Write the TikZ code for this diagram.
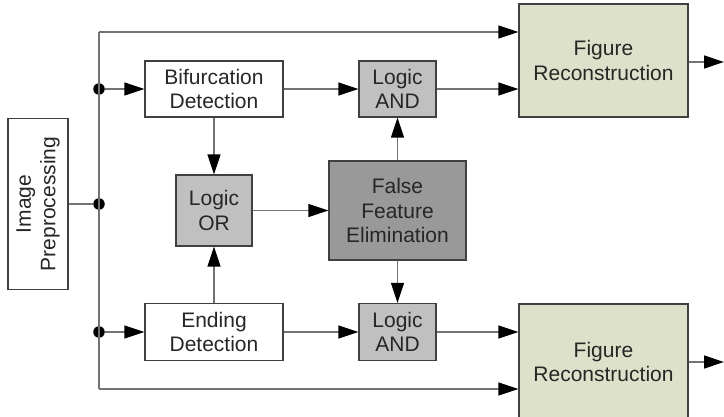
\documentclass[tikz,border=0pt]{standalone}
\usepackage{fontspec}
\setmainfont{Liberation Sans}
\usetikzlibrary{arrows.meta}

\definecolor{logicgray}{RGB}{192,192,192}
\definecolor{elimgray}{RGB}{153,153,153}
\definecolor{figgreen}{RGB}{222,225,202}

\begin{document}
\begin{tikzpicture}[x=1pt,y=-1pt,
  block/.style={draw=black!75,line width=1.2pt,align=center,inner sep=0pt,
    font=\fontsize{21}{24.5}\selectfont,text=black!85},
  wire/.style={draw=black!55,line width=1.3pt},
  arr/.style={wire,-{Triangle[length=20pt,width=13pt,color=black]}},
  dot/.style={circle,fill=black,inner sep=0pt,minimum size=11.5pt}]
\useasboundingbox (0,0) rectangle (724,417);

\node[block,minimum width=171pt,minimum height=60pt,rotate=90] (pre) at (38,204) {Image\\Preprocessing};
\node[block,minimum width=138pt,minimum height=56pt] (bif) at (214,89) {Bifurcation\\Detection};
\node[block,minimum width=138pt,minimum height=57pt] (end) at (214,332) {Ending\\Detection};
\node[block,fill=logicgray,minimum width=76pt,minimum height=71pt] (or) at (214,210.5) {Logic\\OR};
\node[block,fill=logicgray,minimum width=77pt,minimum height=56pt] (and1) at (397.5,89) {Logic\\AND};
\node[block,fill=logicgray,minimum width=77pt,minimum height=57pt] (and2) at (397.5,332) {Logic\\AND};
\node[block,fill=elimgray,minimum width=137pt,minimum height=99pt] (ffe) at (397.5,210.5) {False\\Feature\\Elimination};
\node[block,fill=figgreen,minimum width=169pt,minimum height=113pt] (fr1) at (603.5,60.5) {Figure\\Reconstruction};
\node[block,fill=figgreen,minimum width=169pt,minimum height=116pt] (fr2) at (603.5,362) {Figure\\Reconstruction};

% bus on the left
\coordinate (jt) at (99,32);
\coordinate (jb) at (99,389);
\node[dot] (j1) at (99,89) {};
\node[dot] (j2) at (99,204) {};
\node[dot] (j3) at (99,332) {};
\coordinate (o1) at (724,62);
\coordinate (o2) at (724,362);

\draw[wire] (jt) -- (jb);
\draw[wire] (pre) -- (j2);
\draw[arr] (jt) -- (jt -| fr1.west);
\draw[arr] (jb) -- (jb -| fr2.west);
\draw[arr] (j1) -- (bif);
\draw[arr] (j3) -- (end);

% detection and logic
\draw[arr] (bif) -- (or);
\draw[arr] (end) -- (or);
\draw[arr] (or) -- (or -| ffe.west);
\draw[arr] (bif) -- (and1);
\draw[arr] (end) -- (and2);
\draw[arr] (ffe) -- (and1);
\draw[arr] (ffe) -- (and2);
\draw[arr] (and1) -- (and1 -| fr1.west);
\draw[arr] (and2) -- (and2 -| fr2.west);

% outputs
\draw[arr] (fr1.east |- o1) -- (o1);
\draw[arr] (fr2.east |- o2) -- (o2);
\end{tikzpicture}
\end{document}
